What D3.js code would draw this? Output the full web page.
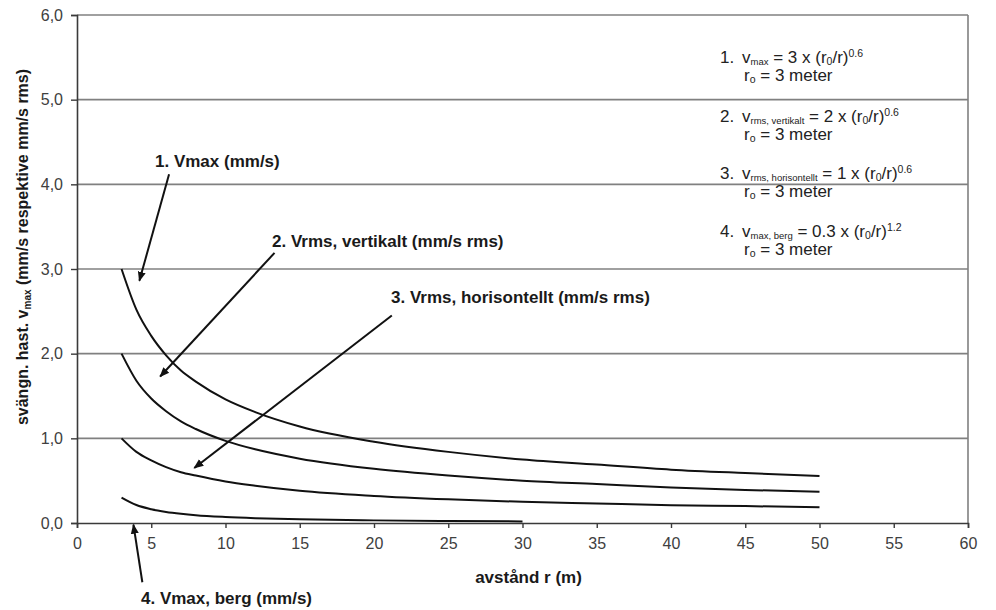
<!DOCTYPE html>
<html>
<head>
<meta charset="utf-8">
<script src="https://cdn.jsdelivr.net/npm/d3@7/dist/d3.min.js"></script>
<style>
  html, body { margin: 0; padding: 0; background: #fff; }
  svg { display: block; font-family: "Liberation Sans", Arial, sans-serif; }
</style>
</head>
<body>
<svg id="chart" width="996" height="610"></svg>
<script>
// ---- data ----
const xTickValues = [0, 5, 10, 15, 20, 25, 30, 35, 40, 45, 50, 55, 60];
const yTickValues = [0, 1, 2, 3, 4, 5, 6];
const yTickLabels = ["0,0", "1,0", "2,0", "3,0", "4,0", "5,0", "6,0"];

const rValues   = [3, 4, 5, 6, 7, 8, 10, 12, 15, 20, 25, 30, 35, 40, 45, 50];
const vMax      = [3.00, 2.52, 2.21, 1.98, 1.80, 1.67, 1.46, 1.31, 1.14, 0.96, 0.84, 0.75, 0.69, 0.63, 0.59, 0.555];
const vRmsVert  = [2.00, 1.68, 1.47, 1.32, 1.20, 1.11, 0.97, 0.87, 0.76, 0.64, 0.56, 0.50, 0.46, 0.42, 0.39, 0.37];
const vRmsHor   = [1.00, 0.84, 0.74, 0.66, 0.60, 0.56, 0.49, 0.44, 0.38, 0.32, 0.28, 0.25, 0.23, 0.21, 0.20, 0.185];
const rBerg     = [3, 4, 5, 6, 7, 8, 10, 12, 15, 20, 25, 30];
const vMaxBerg  = [0.30, 0.212, 0.163, 0.131, 0.109, 0.092, 0.071, 0.057, 0.043, 0.031, 0.024, 0.019];

const curveLabels = [
  "1. Vmax (mm/s)",
  "2. Vrms, vertikalt (mm/s rms)",
  "3. Vrms, horisontellt (mm/s rms)",
  "4. Vmax, berg (mm/s)"
];
// arrow: label anchor (x, y in data units) -> tip (data units)
const arrowFrom = [[6.2, 4.12], [13.3, 3.19], [21.2, 2.45], [4.4, -0.70]];
const arrowTo   = [[4.2, 2.86], [5.6, 1.73], [7.9, 0.65], [3.8, -0.02]];

const xTitle = "avstånd r (m)";

// ---- chart ----
const svg = d3.select("#chart");
const x = d3.scaleLinear().domain([0, 60]).range([77, 968]);
const y = d3.scaleLinear().domain([0, 6]).range([523, 15]);

// arrow marker
svg.append("defs").append("marker")
  .attr("id", "ah").attr("viewBox", "0 0 10 10")
  .attr("refX", 9).attr("refY", 5)
  .attr("markerWidth", 5).attr("markerHeight", 5)
  .attr("markerUnits", "strokeWidth")
  .attr("orient", "auto")
  .append("path").attr("d", "M0,1 L10,5 L0,9 z").attr("fill", "#111");

// gridlines
svg.append("g").selectAll("line").data(yTickValues.filter(d => d > 0)).join("line")
  .attr("x1", x(0)).attr("x2", x(60))
  .attr("y1", d => y(d)).attr("y2", d => y(d))
  .attr("stroke", "#808080").attr("stroke-width", 1.6);
// right border
svg.append("line").attr("x1", x(60)).attr("x2", x(60)).attr("y1", y(6)).attr("y2", y(0))
  .attr("stroke", "#808080").attr("stroke-width", 1.6);

// axes
const xAxis = d3.axisBottom(x).tickValues(xTickValues).tickSize(5).tickPadding(10)
  .tickFormat(d => String(d));
const gx = svg.append("g").attr("transform", `translate(0,${y(0)})`).call(xAxis);
const yAxis = d3.axisLeft(y).tickValues(yTickValues).tickSize(6).tickPadding(8)
  .tickFormat((d, i) => yTickLabels[i]);
const gy = svg.append("g").attr("transform", `translate(${x(0)},0)`).call(yAxis);
[gx, gy].forEach(g => {
  g.select(".domain").attr("stroke", "#3a3a3a").attr("stroke-width", 1.6);
  g.selectAll(".tick line").attr("stroke", "#3a3a3a").attr("stroke-width", 1.4);
  g.selectAll(".tick text").attr("fill", "#404040").style("font-size", "16px")
    .style("font-family", '"Liberation Sans", Arial, sans-serif');
});
gx.selectAll(".tick text").attr("dy", "0.71em");

// curves
const line = d3.line().x(d => x(d[0])).y(d => y(d[1])).curve(d3.curveMonotoneX);
const series = [
  rValues.map((r, i) => [r, vMax[i]]),
  rValues.map((r, i) => [r, vRmsVert[i]]),
  rValues.map((r, i) => [r, vRmsHor[i]]),
  rBerg.map((r, i) => [r, vMaxBerg[i]])
];
svg.append("g").selectAll("path").data(series).join("path")
  .attr("d", line).attr("fill", "none").attr("stroke", "#111").attr("stroke-width", 2);

// arrows
svg.append("g").selectAll("line").data(arrowFrom).join("line")
  .attr("x1", d => x(d[0])).attr("y1", d => y(d[1]))
  .attr("x2", (d, i) => x(arrowTo[i][0])).attr("y2", (d, i) => y(arrowTo[i][1]))
  .attr("stroke", "#111").attr("stroke-width", 2).attr("marker-end", "url(#ah)");

// curve labels
const labelPos = [[155, 167], [272, 247], [391, 303], [141, 604]];
svg.append("g").selectAll("text").data(curveLabels).join("text")
  .attr("x", (d, i) => labelPos[i][0]).attr("y", (d, i) => labelPos[i][1])
  .attr("font-size", 17).attr("font-weight", "bold").attr("fill", "#1a1a1a")
  .text(d => d);

// axis titles
svg.append("text").attr("x", (x(0) + x(60)) / 2 + 6).attr("y", 583)
  .attr("text-anchor", "middle").attr("font-size", 17).attr("font-weight", "bold")
  .attr("fill", "#1a1a1a").text(xTitle);

const yt = svg.append("text").attr("transform", `translate(28,${(y(0) + y(6)) / 2 - 22}) rotate(-90)`)
  .attr("text-anchor", "middle").attr("font-size", 16).attr("font-weight", "bold").attr("fill", "#1a1a1a");
yt.append("tspan").text("svängn. hast. v");
yt.append("tspan").attr("font-size", 10).attr("dy", 3).text("max");
yt.append("tspan").attr("dy", -3).text(" (mm/s respektive mm/s rms)");

// formula legend
const legend = [
  { n: "1.", sub: "max", coef: "3", exp: "0.6", y: 63 },
  { n: "2.", sub: "rms, vertikalt", coef: "2", exp: "0.6", y: 122 },
  { n: "3.", sub: "rms, horisontellt", coef: "1", exp: "0.6", y: 179 },
  { n: "4.", sub: "max, berg", coef: "0.3", exp: "1.2", y: 237 }
];
const lg = svg.append("g").attr("fill", "#222").attr("font-size", 17);
legend.forEach(d => {
  lg.append("text").attr("x", 720).attr("y", d.y).text(d.n);
  const t = lg.append("text").attr("x", 742).attr("y", d.y);
  t.append("tspan").text("v");
  t.append("tspan").attr("font-size", 9.5).attr("dy", 2).text(d.sub);
  t.append("tspan").attr("dy", -2).text(" = " + d.coef + " x (r");
  t.append("tspan").attr("font-size", 10.5).attr("dy", 2).text("0");
  t.append("tspan").attr("dy", -2).text("/r)");
  t.append("tspan").attr("font-size", 10.5).attr("dy", -6).text(d.exp);
  const r = lg.append("text").attr("x", 744).attr("y", d.y + 18);
  r.append("tspan").text("r");
  r.append("tspan").attr("font-size", 10.5).attr("dy", 2).text("o");
  r.append("tspan").attr("dy", -2).text(" = 3 meter");
});
</script>
</body>
</html>
